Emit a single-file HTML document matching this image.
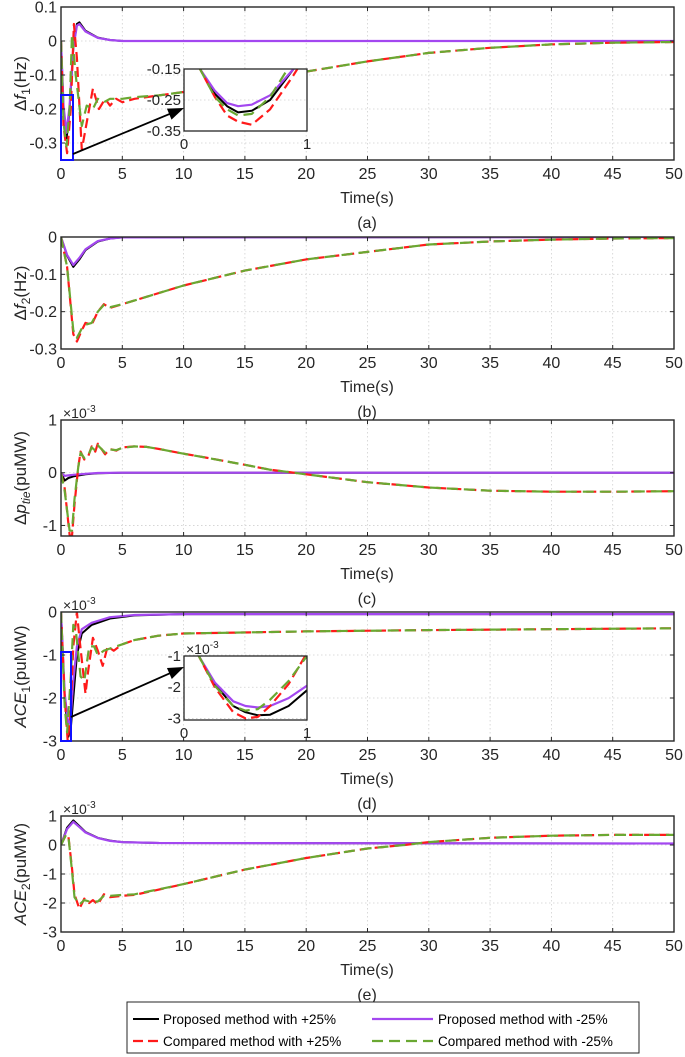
<!DOCTYPE html>
<html><head><meta charset="utf-8"><style>
body{margin:0;background:#fff;}
svg{display:block;font-family:"Liberation Sans",sans-serif;}
</style></head><body>
<svg id="fig" width="685" height="1057" viewBox="0 0 685 1057" xmlns="http://www.w3.org/2000/svg"></svg>
<script>
// ---------- data ----------
const xTicks=[0,5,10,15,20,25,30,35,40,45,50];
// Panel a: delta f1 (Hz)
const aT_prop=[0,0.2,0.45,0.7,1.0,1.3,1.5,2,3,4,5,50];
const aV_blk=[0,-0.2,-0.29,-0.2,-0.02,0.05,0.055,0.03,0.01,0.003,0,0];
const aV_pur=[0,-0.19,-0.27,-0.19,-0.02,0.045,0.05,0.028,0.009,0.003,0,0];
const aT_red=[0,0.2,0.5,0.8,1.05,1.3,1.7,2.1,2.6,3.1,3.6,4.0,4.5,5,6,8,10,15,20,25,30,35,40,45,50];
const aV_red=[0,-0.25,-0.33,-0.2,0.05,-0.05,-0.32,-0.24,-0.14,-0.2,-0.17,-0.19,-0.17,-0.18,-0.17,-0.16,-0.15,-0.12,-0.09,-0.06,-0.035,-0.02,-0.01,-0.005,-0.003];
const aT_grn=[0,0.2,0.45,0.7,0.9,1.2,1.7,2.1,2.6,3.0,3.5,4.0,4.5,5,6,8,10,15,20,25,30,35,40,45,50];
const aV_grn=[0,-0.24,-0.31,-0.2,0.02,-0.1,-0.25,-0.19,-0.2,-0.17,-0.18,-0.17,-0.17,-0.17,-0.165,-0.16,-0.15,-0.12,-0.09,-0.06,-0.035,-0.02,-0.01,-0.005,-0.003];
// Inset a
const iaT=[0,0.13,0.25,0.35,0.44,0.55,0.7,0.89,1];
const iaV_blk=[-0.05,-0.15,-0.23,-0.27,-0.29,-0.285,-0.25,-0.15,-0.1];
const iaV_pur=[-0.05,-0.15,-0.22,-0.26,-0.27,-0.265,-0.235,-0.15,-0.1];
const iaV_red=[-0.05,-0.15,-0.24,-0.3,-0.32,-0.33,-0.28,-0.17,-0.1];
const iaV_grn=[-0.05,-0.15,-0.24,-0.28,-0.3,-0.295,-0.24,-0.12,-0.1];
// Panel b: delta f2 (Hz)
const bT_prop=[0,0.5,1,1.5,2,3,4,5,50];
const bV_blk=[0,-0.05,-0.08,-0.06,-0.035,-0.012,-0.004,-0.001,0];
const bV_pur=[0,-0.048,-0.075,-0.056,-0.033,-0.011,-0.004,-0.001,0];
const bT_cmp=[0,0.5,1,1.3,1.7,2,2.5,3,3.5,4,5,10,15,20,25,30,35,40,45,50];
const bV_red=[0,-0.08,-0.26,-0.28,-0.25,-0.23,-0.235,-0.2,-0.18,-0.19,-0.18,-0.13,-0.09,-0.06,-0.04,-0.02,-0.012,-0.007,-0.004,-0.003];
const bV_grn=[0,-0.08,-0.25,-0.27,-0.245,-0.235,-0.23,-0.2,-0.182,-0.188,-0.18,-0.13,-0.09,-0.06,-0.04,-0.02,-0.012,-0.007,-0.004,-0.003];
// Panel c: delta p tie (x1e-3 puMW)
const cT_prop=[0,0.3,0.6,1,2,3,5,50];
const cV_blk=[0,-0.15,-0.1,-0.07,-0.03,-0.01,0,0];
const cV_pur=[0,-0.06,-0.05,-0.04,-0.02,-0.006,0,0];
const cT_cmp=[0,0.3,0.7,0.9,1.1,1.4,1.6,1.9,2.2,2.5,2.8,3.0,3.3,3.6,4,4.5,5,6,7,8,10,12,15,17,19,20,25,30,35,40,45,50];
const cV_red=[0,-0.3,-1.18,-1.2,-0.6,0.1,0.4,0.25,0.3,0.5,0.4,0.55,0.45,0.35,0.45,0.42,0.48,0.5,0.49,0.45,0.36,0.28,0.15,0.06,0,-0.03,-0.18,-0.28,-0.34,-0.36,-0.36,-0.35];
const cV_grn=[0,-0.35,-1.1,-1.1,-0.5,0.1,0.38,0.28,0.32,0.48,0.42,0.52,0.45,0.38,0.44,0.43,0.47,0.5,0.49,0.45,0.36,0.28,0.15,0.06,0,-0.03,-0.18,-0.28,-0.34,-0.36,-0.36,-0.35];
// Panel d: ACE1 (x1e-3)
const dT_prop=[0,0.3,0.6,0.8,1,1.3,1.7,2.5,4,6,10,50];
const dV_blk=[0,-2.0,-2.9,-2.7,-2.0,-1.0,-0.5,-0.3,-0.15,-0.08,-0.05,-0.05];
const dV_pur=[0,-1.9,-2.65,-2.4,-1.6,-0.8,-0.4,-0.25,-0.12,-0.07,-0.05,-0.05];
const dT_red=[0,0.3,0.55,0.75,1.0,1.3,1.5,2.0,2.2,2.6,3.0,3.4,3.8,4.3,5,6,8,10,20,30,40,50];
const dV_red=[0,-2.0,-3.0,-2.5,-0.8,0,-0.6,-1.9,-1.4,-0.6,-0.9,-1.25,-0.8,-0.9,-0.75,-0.65,-0.55,-0.5,-0.45,-0.42,-0.4,-0.38];
const dT_grn=[0,0.3,0.5,0.8,1.0,1.2,1.6,1.9,2.3,2.7,3.0,3.5,4.0,5,6,8,10,20,30,40,50];
const dV_grn=[0,-2.2,-2.8,-1.5,-0.3,-0.4,-1.5,-1.6,-0.8,-0.8,-1.0,-0.9,-0.85,-0.75,-0.65,-0.55,-0.5,-0.45,-0.42,-0.4,-0.38];
// Inset d
const idT=[0,0.12,0.25,0.4,0.5,0.6,0.7,0.85,1];
const idV_blk=[0,-1,-1.9,-2.6,-2.8,-2.9,-2.88,-2.6,-2.1];
const idV_pur=[0,-1,-1.85,-2.45,-2.6,-2.65,-2.6,-2.35,-1.95];
const idV_red=[0,-1,-2.0,-2.8,-3.0,-2.95,-2.6,-1.9,-0.9];
const idV_grn=[0,-1,-1.95,-2.6,-2.75,-2.7,-2.4,-1.8,-1.0];
// Panel e: ACE2 (x1e-3)
const eT_prop=[0,0.5,1.0,1.5,2,3,4,5,8,50];
const eV_blk=[0,0.6,0.85,0.65,0.45,0.25,0.15,0.1,0.07,0.05];
const eV_pur=[0,0.55,0.8,0.62,0.43,0.24,0.14,0.1,0.07,0.05];
const eT_cmp=[0,0.4,0.6,0.9,1.1,1.5,1.9,2.3,2.6,3.0,3.5,4,5,6,10,15,20,25,28,30,35,40,45,50];
const eV_red=[0,0.35,0.3,-0.8,-1.7,-2.2,-1.85,-2.0,-1.9,-2.05,-1.7,-1.8,-1.75,-1.72,-1.35,-0.85,-0.45,-0.12,0,0.1,0.25,0.32,0.35,0.35];
const eV_grn=[0,0.35,0.3,-0.9,-1.8,-2.05,-1.9,-1.95,-1.95,-1.95,-1.75,-1.75,-1.72,-1.7,-1.35,-0.85,-0.45,-0.12,0,0.1,0.25,0.32,0.35,0.35];

// ---------- drawing ----------
const NS="http://www.w3.org/2000/svg";
const svg=document.getElementById('fig');
function mk(tag,attrs,parent){const e=document.createElementNS(NS,tag);for(const k in attrs)e.setAttribute(k,attrs[k]);(parent||svg).appendChild(e);return e;}
const X0=61,X1=674;
function xs(t){return X0+(t/50)*(X1-X0);}
let clipId=0;
const STY={
 blk:{stroke:'#000',w:2,dash:''},
 pur:{stroke:'#a347f0',w:2.2,dash:''},
 red:{stroke:'#ff1a1a',w:2.2,dash:'10,5'},
 grn:{stroke:'#6aa832',w:2.2,dash:'11,6'}
};
function line(g,T,V,sx,sy,key,name,clip){
  const pts=T.map((t,i)=>sx(t).toFixed(1)+','+sy(V[i]).toFixed(1)).join(' ');
  const s=STY[key];
  const p=mk('polyline',{points:pts,fill:'none',stroke:s.stroke,'stroke-width':s.w,'stroke-dasharray':s.dash,'stroke-linejoin':'round','clip-path':'url(#'+clip+')'},g);
  
  
}
function panel(cfg){
  const g=mk('g',{});
  
  
  const ys=v=>cfg.top+(cfg.ymax-v)/(cfg.ymax-cfg.ymin)*(cfg.bottom-cfg.top);
  const cid='c'+(clipId++);
  const cp=mk('clipPath',{id:cid},g);mk('rect',{x:X0,y:cfg.top,width:X1-X0,height:cfg.bottom-cfg.top},cp);
  xTicks.forEach(t=>{if(t>0&&t<50){const l=mk('line',{x1:xs(t),x2:xs(t),y1:cfg.top,y2:cfg.bottom,stroke:'#d0d0d0','stroke-width':0.8,'stroke-dasharray':'1.5,2.5'},g);}});
  cfg.yticks.forEach(v=>{const l=mk('line',{x1:X0,x2:X1,y1:ys(v),y2:ys(v),stroke:'#d0d0d0','stroke-width':0.8,'stroke-dasharray':'1.5,2.5'},g);});
  cfg.series.forEach(s=>line(g,s[0],s[1],xs,ys,s[2],s[3],cid));
  const b=mk('rect',{x:X0,y:cfg.top,width:X1-X0,height:cfg.bottom-cfg.top,fill:'none',stroke:'#262626','stroke-width':1.4},g);
  
  xTicks.forEach(t=>{
    mk('line',{x1:xs(t),x2:xs(t),y1:cfg.bottom,y2:cfg.bottom-4,stroke:'#262626'},g);
    mk('line',{x1:xs(t),x2:xs(t),y1:cfg.top,y2:cfg.top+4,stroke:'#262626'},g);
    const tx=mk('text',{x:xs(t),y:cfg.bottom+19,'font-size':16,'text-anchor':'middle',fill:'#262626'},g);tx.textContent=t;
    
  });
  cfg.yticks.forEach((v,i)=>{
    mk('line',{x1:X0,x2:X0+4,y1:ys(v),y2:ys(v),stroke:'#262626'},g);
    mk('line',{x1:X1,x2:X1-4,y1:ys(v),y2:ys(v),stroke:'#262626'},g);
    const tx=mk('text',{x:X0-4,y:ys(v)+5.5,'font-size':16,'text-anchor':'end',fill:'#262626'},g);tx.textContent=cfg.ylabels[i];
    
  });
  if(cfg.exp){const ex=mk('text',{x:X0+2,y:cfg.top-2,'font-size':14,fill:'#262626'},g);ex.innerHTML='×10<tspan dy="-6" font-size="10">-3</tspan>';}
  const xl=mk('text',{x:367,y:cfg.bottom+43,'font-size':16,'text-anchor':'middle',fill:'#262626'},g);xl.textContent='Time(s)';
  
  const cap=mk('text',{x:367,y:cfg.bottom+68,'font-size':16,'text-anchor':'middle',fill:'#262626'},g);cap.textContent='('+cfg.id+')';
  
  const yl=mk('text',{x:0,y:0,'font-size':17,'text-anchor':'middle',fill:'#262626',transform:'translate(26,'+((cfg.top+cfg.bottom)/2)+') rotate(-90)'},g);
  yl.innerHTML=cfg.ylabel;
  return ys;
}
function inset(cfg){
  const g=mk('g',{});
  
  const sx=t=>cfg.x0+t*(cfg.x1-cfg.x0);
  const sy=v=>cfg.top+(cfg.ymax-v)/(cfg.ymax-cfg.ymin)*(cfg.bottom-cfg.top);
  mk('rect',{x:cfg.x0,y:cfg.top,width:cfg.x1-cfg.x0,height:cfg.bottom-cfg.top,fill:'#fff'},g);
  const cid='c'+(clipId++);
  const cp=mk('clipPath',{id:cid},g);mk('rect',{x:cfg.x0,y:cfg.top,width:cfg.x1-cfg.x0,height:cfg.bottom-cfg.top},cp);
  cfg.yticks.forEach((v,i)=>{
    mk('line',{x1:cfg.x0,x2:cfg.x1,y1:sy(v),y2:sy(v),stroke:'#d0d0d0','stroke-width':0.8,'stroke-dasharray':'1.5,2.5'},g);
    const tx=mk('text',{x:cfg.x0-3,y:sy(v)+5,'font-size':15,'text-anchor':'end',fill:'#262626'},g);tx.textContent=cfg.ylabels[i];
    
  });
  cfg.series.forEach(s=>line(g,s[0],s[1],sx,sy,s[2],s[3],cid));
  mk('rect',{x:cfg.x0,y:cfg.top,width:cfg.x1-cfg.x0,height:cfg.bottom-cfg.top,fill:'none',stroke:'#262626','stroke-width':1.3},g);
  [0,1].forEach(t=>{const tx=mk('text',{x:sx(t),y:cfg.bottom+18,'font-size':15,'text-anchor':'middle',fill:'#262626'},g);tx.textContent=t;});
  if(cfg.exp){const ex=mk('text',{x:cfg.x0+2,y:cfg.top-2,'font-size':14,fill:'#262626'},g);ex.innerHTML='×10<tspan dy="-6" font-size="10">-3</tspan>';}
  const br=mk('rect',{x:cfg.bx0,y:cfg.by0,width:cfg.bx1-cfg.bx0,height:cfg.by1-cfg.by0,fill:'none',stroke:'#1010ff','stroke-width':2},svg);
  
  const ar=mk('line',{x1:cfg.ax0,y1:cfg.ay0,x2:cfg.ax1-8,y2:cfg.ay1+(cfg.ay0-cfg.ay1)*8/(cfg.ax1-cfg.ax0),stroke:'#000','stroke-width':1.8},svg);
  
  const ang=Math.atan2(cfg.ay1-cfg.ay0,cfg.ax1-cfg.ax0);
  const L=16,W=6,bx=cfg.ax1-L*Math.cos(ang),by=cfg.ay1-L*Math.sin(ang);
  mk('polygon',{points:`${cfg.ax1},${cfg.ay1} ${bx-W*Math.sin(ang)},${by+W*Math.cos(ang)} ${bx+W*Math.sin(ang)},${by-W*Math.cos(ang)}`,fill:'#000'},svg);
}
panel({id:'a',top:7,bottom:160,ymin:-0.35,ymax:0.1,yticks:[0.1,0,-0.1,-0.2,-0.3],ylabels:['0.1','0','-0.1','-0.2','-0.3'],
 ylabel:'Δ<tspan font-style="italic">f</tspan><tspan dy="4" font-size="12">1</tspan><tspan dy="-4">(Hz)</tspan>',
 series:[[aT_prop,aV_blk,'blk','line-proposed-plus'],[aT_prop,aV_pur,'pur','line-proposed-minus'],[aT_red,aV_red,'red','line-compared-plus'],[aT_grn,aV_grn,'grn','line-compared-minus']]});
inset({id:'a',x0:184,x1:307,top:69,bottom:131,ymin:-0.35,ymax:-0.15,yticks:[-0.15,-0.25,-0.35],ylabels:['-0.15','-0.25','-0.35'],
 series:[[iaT,iaV_blk,'blk','inset-proposed-plus'],[iaT,iaV_pur,'pur','inset-proposed-minus'],[iaT,iaV_red,'red','inset-compared-plus'],[iaT,iaV_grn,'grn','inset-compared-minus']],
 bx0:61,bx1:73,by0:95,by1:160,ax0:73,ay0:154,ax1:184,ay1:108});
panel({id:'b',top:237,bottom:349,ymin:-0.3,ymax:0,yticks:[0,-0.1,-0.2,-0.3],ylabels:['0','-0.1','-0.2','-0.3'],
 ylabel:'Δ<tspan font-style="italic">f</tspan><tspan dy="4" font-size="12">2</tspan><tspan dy="-4">(Hz)</tspan>',
 series:[[bT_prop,bV_blk,'blk','line-proposed-plus'],[bT_prop,bV_pur,'pur','line-proposed-minus'],[bT_cmp,bV_red,'red','line-compared-plus'],[bT_cmp,bV_grn,'grn','line-compared-minus']]});
panel({id:'c',top:420,bottom:536,ymin:-1.2,ymax:1,yticks:[1,0,-1],ylabels:['1','0','-1'],exp:true,
 ylabel:'Δ<tspan font-style="italic">p</tspan><tspan dy="4" font-size="12" font-style="italic">tie</tspan><tspan dy="-4">(puMW)</tspan>',
 series:[[cT_prop,cV_blk,'blk','line-proposed-plus'],[cT_prop,cV_pur,'pur','line-proposed-minus'],[cT_cmp,cV_red,'red','line-compared-plus'],[cT_cmp,cV_grn,'grn','line-compared-minus']]});
panel({id:'d',top:612,bottom:741,ymin:-3,ymax:0,yticks:[0,-1,-2,-3],ylabels:['0','-1','-2','-3'],exp:true,
 ylabel:'<tspan font-style="italic">ACE</tspan><tspan dy="4" font-size="12">1</tspan><tspan dy="-4">(puMW)</tspan>',
 series:[[dT_prop,dV_blk,'blk','line-proposed-plus'],[dT_prop,dV_pur,'pur','line-proposed-minus'],[dT_red,dV_red,'red','line-compared-plus'],[dT_grn,dV_grn,'grn','line-compared-minus']]});
inset({id:'d',x0:184,x1:307,top:656,bottom:720,ymin:-3.05,ymax:-1,yticks:[-1,-2,-3],ylabels:['-1','-2','-3'],exp:true,
 series:[[idT,idV_blk,'blk','inset-proposed-plus'],[idT,idV_pur,'pur','inset-proposed-minus'],[idT,idV_red,'red','inset-compared-plus'],[idT,idV_grn,'grn','inset-compared-minus']],
 bx0:61,bx1:71,by0:652,by1:741,ax0:71,ay0:717,ax1:184,ay1:667});
panel({id:'e',top:816,bottom:932,ymin:-3,ymax:1,yticks:[1,0,-1,-2,-3],ylabels:['1','0','-1','-2','-3'],exp:true,
 ylabel:'<tspan font-style="italic">ACE</tspan><tspan dy="4" font-size="12">2</tspan><tspan dy="-4">(puMW)</tspan>',
 series:[[eT_prop,eV_blk,'blk','line-proposed-plus'],[eT_prop,eV_pur,'pur','line-proposed-minus'],[eT_cmp,eV_red,'red','line-compared-plus'],[eT_cmp,eV_grn,'grn','line-compared-minus']]});

// legend
const lg=mk('g',{});


mk('rect',{x:127,y:1002,width:512,height:51,fill:'#fff',stroke:'#262626','stroke-width':1},lg);
const legItems=[['blk','Proposed method with +25%',133,1019,163],['pur','Proposed method with -25%',372,1019,438],['red','Compared method with +25%',133,1041,163],['grn','Compared method with -25%',372,1041,438]];
legItems.forEach(it=>{
  const s=STY[it[0]];
  const x2=it[0]==='blk'||it[0]==='red'?it[4]-4:it[4]-5;
  const l=mk('line',{x1:it[2],x2:x2,y1:it[3],y2:it[3],stroke:s.stroke,'stroke-width':s.w,'stroke-dasharray':s.dash},lg);
  
  const t=mk('text',{x:it[4],y:it[3]+5,'font-size':13.5,fill:'#000'},lg);t.textContent=it[1];
  
});
</script>
</body></html>
